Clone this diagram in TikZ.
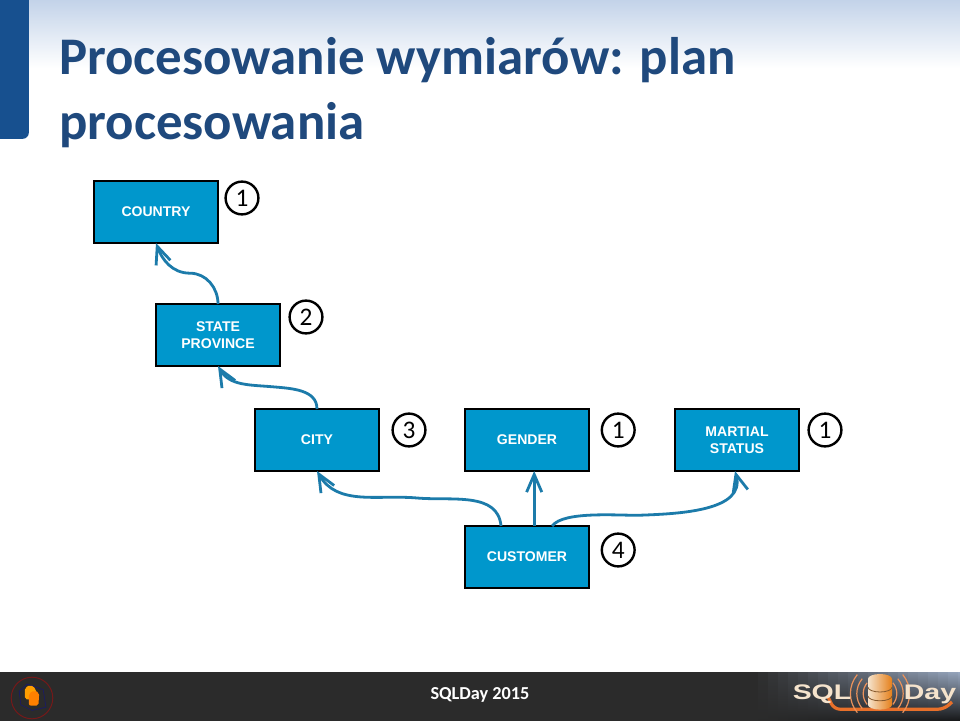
\documentclass[tikz,border=0pt]{standalone}
\usepackage{fontspec}
\setmainfont{Carlito}
\newfontfamily\boxfont{Liberation Sans}
\usepackage{xcolor}
\usetikzlibrary{arrows.meta,positioning,calc}
\definecolor{titleblue}{HTML}{1F497D}
\definecolor{tabblue}{HTML}{17508F}
\definecolor{topblue}{HTML}{C3D3E9}
\definecolor{boxblue}{HTML}{0097CC}
\definecolor{linkblue}{HTML}{1C7BAA}
\definecolor{footdark}{HTML}{2B2B2B}
\definecolor{logotop}{HTML}{98A8C0}
\definecolor{logoorange}{HTML}{E8702A}
\definecolor{logocream}{HTML}{F5E3CC}

\begin{document}
\begin{tikzpicture}[
    dimbox/.style={rectangle, draw=black, fill=boxblue, line width=0.72mm,
                   minimum width=3.1cm, minimum height=1.55cm, align=center,
                   outer sep=0pt, text=white,
                   font=\boxfont\bfseries\fontsize{10}{12}\selectfont},
    badge/.style={circle, draw=black, fill=white, line width=0.6mm, inner sep=0pt,
                  minimum size=0.82cm, font=\fontsize{18}{18}\selectfont},
    link/.style={-{Straight Barb[length=4.4mm,width=3.8mm,line width=0.7mm]},
                 line width=0.7mm, linkblue},
    arcwave/.style={line width=0.3mm, logoorange!70!logocream},
    logotext/.style={text=logocream, inner sep=0pt,
                     font=\boxfont\bfseries\fontsize{15}{15}\selectfont},
]
    \useasboundingbox (0,0) rectangle (24,18);

    % Header
    \shade[top color=topblue, bottom color=white] (0,18) rectangle (24,16.3);
    \fill[tabblue, rounded corners=0.15cm] (-0.5,18.5) -- (0.72,18.5) -- (0.72,14.53) -- (-0.5,14.53) -- cycle;
    \node[anchor=north west, align=left, inner sep=0pt, text=titleblue,
          font=\bfseries\fontsize{37.6}{46.7}\selectfont] (title) at (1.47,17.08)
        {Procesowanie wymiarów: plan\\procesowania};

    % Dimensions
    \node[dimbox] (country) at (3.9,12.7) {\raisebox{-0.7pt}{COUNTRY}};
    \node[dimbox, below=1.525cm of country, xshift=1.55cm] (state) {STATE\\PROVINCE};
    \node[dimbox, below=1.075cm of state, xshift=2.475cm] (city) {\raisebox{-0.7pt}{CITY}};
    \node[dimbox, right=2.15cm of city] (gender) {\raisebox{-0.7pt}{GENDER}};
    \node[dimbox, right=2.15cm of gender] (martial) {MARTIAL\\STATUS};
    \node[dimbox, below=1.375cm of gender] (customer) {\raisebox{-0.7pt}{CUSTOMER}};

    % Step numbers
    \foreach \dim/\num/\gap/\drop in {country/1/0.16/0.425, state/2/0.21/0.325,
                                      city/3/0.31/0.525, gender/1/0.29/0.525,
                                      martial/1/0.21/0.525, customer/4/0.29/0.6} {
        \node[badge, right=\gap cm of \dim.north east, yshift=-\drop cm] (badge\dim) {\num};
    }

    % Bends of the links
    \coordinate (bendstate) at (4.75,11.17);
    \coordinate (bendcity) at (6.82,8.33);
    \coordinate (bendcustl) at (10.43,5.55);
    \coordinate (bendcustr) at (16.0,5.12);

    % Links
    \draw[link] (state.north) to[out=90, in=0] (bendstate) to[out=180, in=-70] (country.south);
    \draw[link] (city.north) to[out=90, in=-5] (bendcity) to[out=175, in=-60] (state.south);
    \draw[link] ($(customer.north)+(-0.65,0)$) to[out=95, in=-5] (bendcustl) to[out=175, in=-60] (city.south);
    \draw[link] ($(customer.north)+(0.18,0)$) -- ($(gender.south)+(0.18,0)$);
    \draw[link] ($(customer.north)+(0.63,0)$) to[out=55, in=182, looseness=0.55] (bendcustr) to[out=2, in=-75] ($(martial.south)+(-0.05,0)$);

    % Footer
    \fill[footdark] (0,-0.1) rectangle (24,1.2);
    \foreach \i in {0,...,21} {
        \pgfmathtruncatemacro{\pct}{\i*100/21}
        \shade[top color=logotop!\pct!footdark, bottom color=black!70!footdark!\pct!footdark]
            ({18.7+\i*0.25},-0.1) rectangle ({19+\i*0.25},1.2);
    }
    \node[text=white, font=\bfseries\fontsize{13}{13}\selectfont] (footer) at (12,0.62) {SQLDay 2015};

    % Left emblem
    \draw[red!45!black!80!gray, line width=0.25mm] (0.8,0.55) circle (0.52);
    \draw[blue!40!black!80!gray, line width=0.15mm] (0.48,0.72) -- (0.68,0.9) -- (1.08,0.76) -- (1.15,0.32) -- (0.8,0.24) -- (0.52,0.38) -- cycle;
    \fill[orange!75!yellow, rounded corners=0.05cm] (0.62,0.52) -- (0.62,0.8) -- (0.76,0.88) -- (0.9,0.78) -- (0.9,0.5) -- cycle;
    \fill[orange, rounded corners=0.05cm] (0.72,0.36) -- (0.96,0.36) -- (0.98,0.68) -- (0.86,0.74) -- (0.72,0.66) -- cycle;

    % Right logo
    \draw[logoorange, line width=0.8mm, rounded corners=0.15cm] (20.68,0.62) -- (20.85,0.27) -- (23.6,0.27) -- (23.8,0.45);
    \foreach \rad in {0.42,0.58,0.74} {
        \draw[arcwave] (22,0.66) ++(140:\rad) arc (140:220:\rad);
        \draw[arcwave] (22,0.66) ++(40:\rad) arc (40:-40:\rad);
    }
    \shade[left color=logocream, right color=orange!60!brown] (21.7,1.03) -- (21.7,0.38) arc (180:360:0.3 and 0.12) -- (22.3,1.03) arc (0:180:0.3 and 0.12);
    \draw[brown!70!black, line width=0.2mm] (21.7,0.82) arc (180:360:0.3 and 0.12) (21.7,0.6) arc (180:360:0.3 and 0.12);
    \node[logotext] (logosql) at (20.55,0.64) {\scalebox{1.35}[1]{SQL}};
    \node[logotext] (logoday) at (23.25,0.64) {\scalebox{1.35}[1]{Day}};
\end{tikzpicture}
\end{document}
